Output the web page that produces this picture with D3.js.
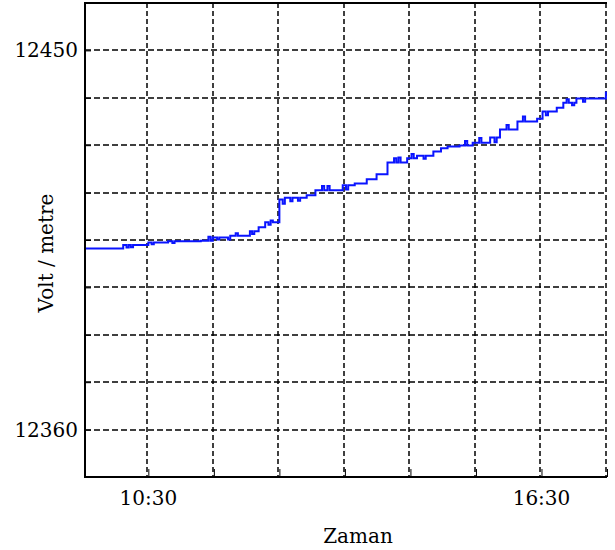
<!DOCTYPE html>
<html>
<head>
<meta charset="utf-8">
<script src="https://cdn.jsdelivr.net/npm/d3@7"></script>
<style>
  body { margin: 0; background: #fff; }
  .grid line { stroke: #000; stroke-width: 1.5; }
  text { font-family: "DejaVu Serif", serif; font-size: 20px; fill: #000; }
</style>
</head>
<body>
<div id="graph"></div>
<script>
// recorded field: time of day / value (V/m), steps with short spikes
var times = ["09:32","10:07","10:10","10:12","10:14","10:16","10:30","10:33","10:35","10:48",
  "10:52","10:54","11:18","11:25","11:27","11:29","11:33","11:35","11:43","11:45",
  "11:50","11:52","12:03","12:05","12:07","12:11","12:17","12:20","12:22","12:24",
  "12:30","12:33","12:35","12:40","12:42","12:47","12:49","12:55","13:03","13:09",
  "13:11","13:14","13:16","13:28","13:31","13:33","13:39","13:50","13:59","14:09",
  "14:15","14:17","14:19","14:21","14:27","14:31","14:33","14:36","14:42","14:44",
  "14:51","14:58","15:04","15:15","15:20","15:22","15:27","15:33","15:35","15:43",
  "15:47","15:49","15:52","15:58","16:00","16:08","16:13","16:15","16:26","16:31",
  "16:34","16:36","16:44","16:50","16:53","16:55","16:58","17:00","17:02","17:08",
  "17:10","17:29","17:30"];
var values = [12403.0,12403.8,12403.2,12403.8,12403.3,12403.8,12404.4,12404.0,12404.4,12404.7,
  12404.3,12404.7,12404.8,12405.8,12404.8,12405.6,12405.1,12405.6,12405.1,12406.0,
  12406.6,12406.0,12407.1,12406.4,12407.1,12408.0,12409.2,12408.6,12409.6,12409.2,
  12414.6,12413.6,12415.0,12414.2,12415.0,12414.3,12415.0,12415.6,12416.8,12417.8,
  12416.8,12417.8,12416.8,12418.0,12417.0,12418.0,12418.4,12419.4,12420.6,12423.4,
  12424.4,12423.4,12424.6,12423.4,12424.4,12425.4,12424.4,12425.0,12424.3,12425.0,
  12426.0,12426.8,12427.2,12427.4,12428.5,12427.4,12428.1,12429.2,12428.1,12429.3,
  12428.2,12429.3,12431.2,12432.3,12431.2,12433.1,12434.3,12433.1,12433.8,12435.5,
  12434.6,12435.5,12436.4,12437.6,12438.4,12437.6,12437.0,12437.6,12438.6,12437.8,
  12438.6,12440.0,12440.0];

var xGrid = ["10:30","11:30","12:30","13:30","14:30","15:30","16:30","17:30"];
var xLabels = ["10:30","16:30"];
var yGrid = [12450,12438.75,12427.5,12416.25,12405,12393.75,12382.5,12371.25,12360];
var yLabels = [12450,12360];
var xDomain = ["09:32","17:30"];
var yDomain = [12348.75,12461.25];

var margin = {top: 3, right: 8, bottom: 73, left: 85},
    width = 615 - margin.left - margin.right,
    height = 550 - margin.top - margin.bottom;

var parseTime = d3.timeParse("%H:%M");

var data = times.map(function(t, i){ return {t: parseTime(t), v: values[i]}; });

var x = d3.scaleTime()
    .domain(xDomain.map(parseTime))
    .range([0, width]);
var y = d3.scaleLinear()
    .domain(yDomain)
    .range([height, 0]);

var valueline = d3.line()
    .curve(d3.curveStepAfter)
    .x(function(d){ return x(d.t); })
    .y(function(d){ return y(d.v); });

var svg = d3.select("#graph")
    .append("svg")
    .attr("width", 615)
    .attr("height", 550);

var g = svg.append("g")
    .attr("transform", "translate(" + margin.left + "," + margin.top + ")");

// grid
g.append("g").attr("class", "grid")
    .selectAll("line").data(yGrid).enter().append("line")
    .attr("x1", 0).attr("x2", width)
    .attr("y1", function(d){ return Math.round(y(d)); })
    .attr("y2", function(d){ return Math.round(y(d)); })
    .attr("stroke-dasharray", "6,3");

g.append("g").attr("class", "grid")
    .selectAll("line").data(xGrid).enter().append("line")
    .attr("x1", function(d){ return Math.round(x(parseTime(d))) - 1; })
    .attr("x2", function(d){ return Math.round(x(parseTime(d))) - 1; })
    .attr("y1", 0).attr("y2", height)
    .attr("stroke-dasharray", "5,3");

// inner ticks
var xAxis = d3.axisTop(x)
    .tickValues(xGrid.map(parseTime))
    .tickSize(8)
    .tickFormat("");
g.append("g")
    .attr("transform", "translate(0," + height + ")")
    .call(xAxis)
    .call(function(a){ a.select(".domain").remove(); });

var yAxis = d3.axisRight(y)
    .tickValues(yGrid)
    .tickSize(6)
    .tickFormat("");
g.append("g")
    .call(yAxis)
    .call(function(a){ a.select(".domain").remove(); });

// data line
g.append("path")
    .datum(data)
    .attr("fill", "none")
    .attr("stroke", "#0a14ff")
    .attr("stroke-width", 2)
    .attr("d", valueline);

// frame: left, bottom, top solid
g.append("path")
    .attr("fill", "none")
    .attr("stroke", "#000")
    .attr("stroke-width", 2)
    .attr("d", "M" + width + ",0H0V" + height + "H" + width);

// labels
g.selectAll(".ylab").data(yLabels).enter().append("text")
    .attr("class", "ylab")
    .attr("text-anchor", "end")
    .attr("x", -7)
    .attr("y", function(d){ return y(d) + 7; })
    .text(function(d){ return d; });

g.selectAll(".xlab").data(xLabels).enter().append("text")
    .attr("class", "xlab")
    .attr("text-anchor", "middle")
    .attr("x", function(d){ return x(parseTime(d)); })
    .attr("y", height + 28)
    .text(function(d){ return d; });

svg.append("text")
    .attr("text-anchor", "middle")
    .attr("x", 358)
    .attr("y", 543)
    .text("Zaman");

svg.append("text")
    .attr("text-anchor", "middle")
    .attr("transform", "translate(53,253) rotate(-90)")
    .text("Volt / metre");
</script>
</body>
</html>
